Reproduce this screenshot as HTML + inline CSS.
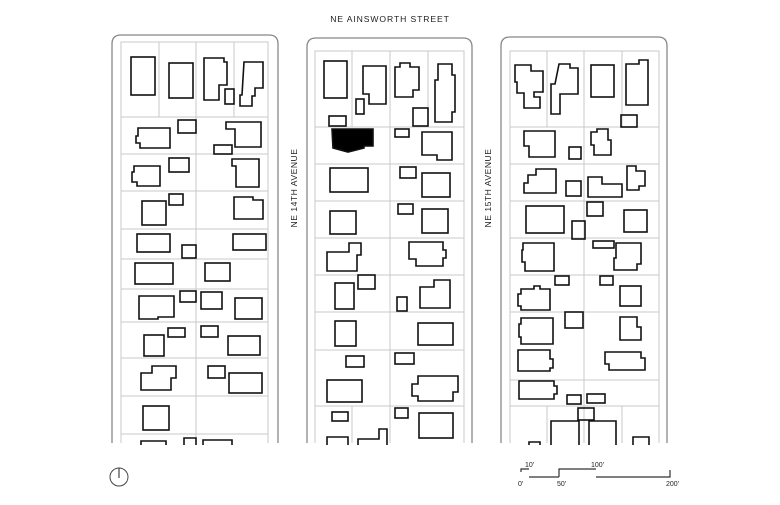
<!DOCTYPE html>
<html><head><meta charset="utf-8"><style>
html,body{margin:0;padding:0;background:#fff;}
svg{display:block;font-family:"Liberation Sans",Arial,sans-serif;}
.b{fill:none;stroke:#111;stroke-width:1.6;}
.l{stroke:#c8c8c8;stroke-width:1;fill:none;}
.o{fill:none;stroke:#888;stroke-width:1.3;}
text{fill:#222;font-size:7px;}
.s{font-size:8.6px;}
</style></head><body>
<svg width="780" height="505" viewBox="0 0 780 505">
<text class="s" x="390" y="22" text-anchor="middle" letter-spacing="0.9">NE  AINSWORTH STREET</text>
<text class="s" transform="translate(297,188) rotate(-90)" text-anchor="middle" letter-spacing="0.5">NE 14TH AVENUE</text>
<text class="s" transform="translate(491,188) rotate(-90)" text-anchor="middle" letter-spacing="0.5">NE 15TH AVENUE</text>

<path class="o" d="M112,443 V44 Q112,35 121,35 H269 Q278,35 278,44 V443"/>
<path class="o" d="M307,443 V47 Q307,38 316,38 H463 Q472,38 472,47 V443"/>
<path class="o" d="M501,443 V46 Q501,37 510,37 H658 Q667,37 667,46 V443"/>

<g class="l">
<path d="M121,443 V42 H268 V443"/>
<path d="M121,117H268M121,154H268M121,191H268M121,229H268M121,259H268M121,289H268M121,322H268M121,358H268M121,396H268M121,434H268"/>
<path d="M159,42V117M196,42V443M234,42V117"/>
</g>
<g class="l">
<path d="M315,443 V51 H464 V443"/>
<path d="M315,127H464M315,164H464M315,201H464M315,238H464M315,275H464M315,312H464M315,350H464M315,406H464"/>
<path d="M352,51V127M390,51V443M428,51V127M352,406V443"/>
</g>
<g class="l">
<path d="M510,443 V51 H659 V443"/>
<path d="M510,127H659M510,164H659M510,201H659M510,238H659M510,275H659M510,312H659M510,380H659M510,406H659"/>
<path d="M547,51V127M584,51V443M622,51V127M547,406V443M622,406V443"/>
</g>

<g class="b">
<rect x="131" y="57" width="24" height="38"/>
<rect x="169" y="63" width="24" height="35"/>
<path d="M204,58H224V62H227V85H219V100H204Z"/>
<rect x="225" y="89" width="9" height="15"/>
<path d="M244,62H263V88H255V96H252V106H240V95H242Z"/>
<path d="M138,128H170V148H140V143H136V136H138Z"/>
<rect x="178" y="120" width="18" height="13"/>
<path d="M226,122H261V147H235V129H226Z"/>
<rect x="214" y="145" width="18" height="9"/>
<path d="M134,166H160V186H137V182H132V172H134Z"/>
<rect x="169" y="158" width="20" height="14"/>
<path d="M232,159H259V187H236V166H232Z"/>
<rect x="142" y="201" width="24" height="24"/>
<rect x="169" y="194" width="14" height="11"/>
<path d="M234,197H253V200H263V219H234Z"/>
<rect x="137" y="234" width="33" height="18"/>
<rect x="182" y="245" width="14" height="13"/>
<rect x="233" y="234" width="33" height="16"/>
<rect x="135" y="263" width="38" height="21"/>
<rect x="205" y="263" width="25" height="18"/>
<path d="M139,296H174V317H158V319H139Z"/>
<rect x="180" y="291" width="16" height="11"/>
<rect x="201" y="292" width="21" height="17"/>
<rect x="235" y="298" width="27" height="21"/>
<rect x="144" y="335" width="20" height="21"/>
<rect x="168" y="328" width="17" height="9"/>
<rect x="201" y="326" width="17" height="11"/>
<rect x="228" y="336" width="32" height="19"/>
<path d="M152,366H176V378H171V390H141V373H152Z"/>
<rect x="208" y="366" width="17" height="12"/>
<rect x="229" y="373" width="33" height="20"/>
<rect x="143" y="406" width="26" height="24"/>
<path d="M141,445V441H166V445"/>
<path d="M184,445V438H196V445"/>
<path d="M203,445V440H232V445"/>
</g>

<g class="b">
<rect x="324" y="61" width="23" height="37"/>
<path d="M363,66H386V104H369V94H363Z"/>
<rect x="356" y="99" width="8" height="15"/>
<path d="M395,67H400V63H410V67H419V90H413V97H395Z"/>
<rect x="413" y="108" width="15" height="18"/>
<path d="M438,64H452V75H455V112H452V122H435V80H438Z"/>
<rect x="329" y="116" width="17" height="10"/>
<path d="M332,129H373V146H364V148L348,152L333,148Z" fill="#000"/>
<rect x="395" y="129" width="14" height="8"/>
<path d="M422,132H452V160H437V155H422Z"/>
<rect x="330" y="168" width="38" height="24"/>
<rect x="400" y="167" width="16" height="11"/>
<rect x="422" y="173" width="28" height="24"/>
<rect x="330" y="211" width="26" height="23"/>
<rect x="398" y="204" width="15" height="10"/>
<rect x="422" y="209" width="26" height="24"/>
<path d="M349,243H361V255H357V271H327V252H349Z"/>
<path d="M409,242H443V250H446V258H443V266H416V259H409Z"/>
<rect x="335" y="283" width="19" height="26"/>
<rect x="358" y="275" width="17" height="14"/>
<rect x="397" y="297" width="10" height="14"/>
<path d="M434,280H450V308H420V287H434Z"/>
<rect x="335" y="321" width="21" height="25"/>
<rect x="418" y="323" width="35" height="22"/>
<rect x="346" y="356" width="18" height="11"/>
<rect x="395" y="353" width="19" height="11"/>
<rect x="327" y="380" width="35" height="22"/>
<path d="M418,376H458V392H453V401H418V396H412V384H418Z"/>
<rect x="332" y="412" width="16" height="9"/>
<rect x="395" y="408" width="13" height="10"/>
<path d="M327,445V437H348V445"/>
<path d="M358,445V439H379V429H387V445"/>
<rect x="419" y="413" width="34" height="25"/>
</g>

<g class="b">
<path d="M515,65H531V71H543V92H534V97H540V108H524V93H517V82H515Z"/>
<path d="M559,64H570V68H578V94H560V114H551V84H555Z"/>
<rect x="591" y="65" width="23" height="32"/>
<path d="M626,64H639V60H648V105H626Z"/>
<rect x="621" y="115" width="16" height="12"/>
<path d="M524,131H555V157H529V146H524Z"/>
<rect x="569" y="147" width="12" height="12"/>
<path d="M591,132H597V129H608V140H611V155H594V145H591Z"/>
<path d="M528,175H536V169H556V193H524V183H528Z"/>
<rect x="566" y="181" width="15" height="15"/>
<path d="M588,177H602V184H622V197H588Z"/>
<path d="M627,166H636V171H645V186H639V190H627Z"/>
<rect x="526" y="206" width="38" height="27"/>
<rect x="572" y="221" width="13" height="18"/>
<rect x="587" y="202" width="16" height="14"/>
<rect x="624" y="210" width="23" height="22"/>
<path d="M523,243H554V271H525V262H522V250H523Z"/>
<rect x="593" y="241" width="21" height="7"/>
<path d="M616,243H641V264H637V270H614V258H616Z"/>
<path d="M521,289H534V286H540V289H550V310H521V306H518V294H521Z"/>
<rect x="555" y="276" width="14" height="9"/>
<rect x="600" y="276" width="13" height="9"/>
<rect x="620" y="286" width="21" height="20"/>
<path d="M521,318H553V344H521V337H519V324H521Z"/>
<rect x="565" y="312" width="18" height="16"/>
<path d="M620,317H637V327H641V340H620Z"/>
<path d="M518,350H550V359H553V368H550V371H518Z"/>
<path d="M605,352H641V358H645V370H609V364H605Z"/>
<path d="M519,381H554V386H557V394H554V399H519Z"/>
<rect x="567" y="395" width="14" height="9"/>
<rect x="587" y="394" width="18" height="9"/>
<rect x="578" y="408" width="16" height="12"/>
<path d="M551,445V421H579V445"/>
<path d="M589,445V421H616V445"/>
<path d="M633,445V437H649V445"/>
<path d="M529,445V442H540V445"/>
</g>

<circle cx="119" cy="477" r="9" fill="none" stroke="#444" stroke-width="1"/>
<line x1="119" y1="468" x2="119" y2="478" stroke="#444" stroke-width="1.2"/>

<g stroke="#333" stroke-width="1.2" fill="none">
<path d="M521,472V469H529"/>
<path d="M529,477H559"/>
<path d="M559,477V469H596"/>
<path d="M596,477H670V470"/>
</g>
<text x="525" y="467" font-size="7.5">10'</text>
<text x="518" y="486" font-size="7.5">0'</text>
<text x="557" y="486" font-size="7.5">50'</text>
<text x="591" y="467" font-size="7.5">100'</text>
<text x="666" y="486" font-size="7.5">200'</text>
</svg>
</body></html>
